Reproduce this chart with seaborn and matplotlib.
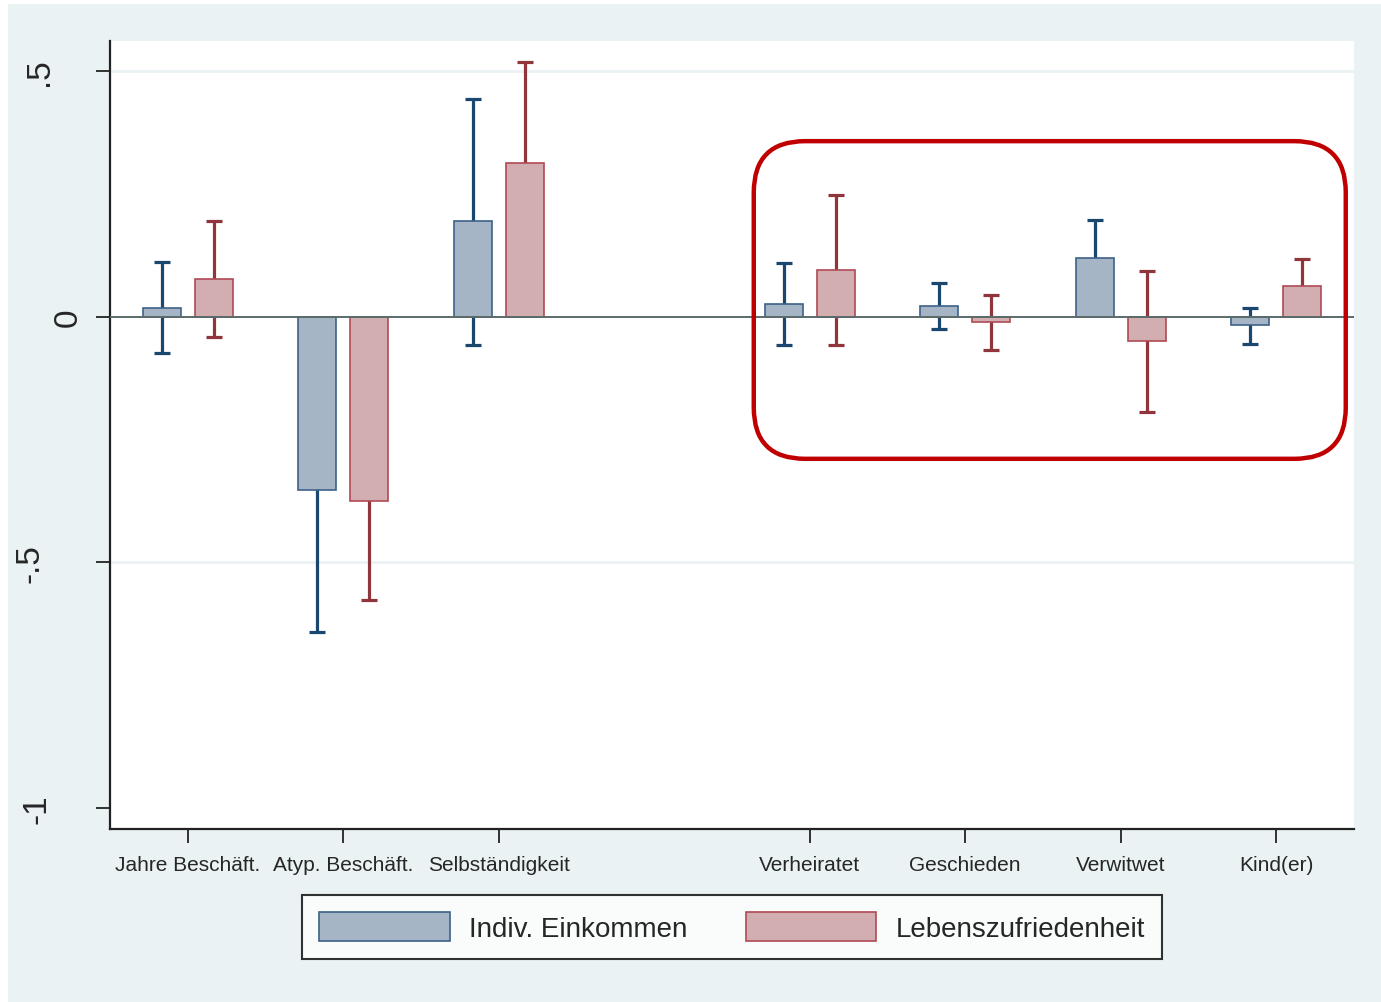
import numpy as np
import pandas as pd
import matplotlib
matplotlib.use("Agg")
import matplotlib.pyplot as plt
import matplotlib.transforms as mtransforms
from matplotlib.patches import FancyBboxPatch, Rectangle, Patch
import seaborn as sns

# ---- data ----
categories = ["Jahre Beschäft.", "Atyp. Beschäft.", "Selbständigkeit", "",
              "Verheiratet", "Geschieden", "Verwitwet", "Kind(er)"]
used_categories = ["Jahre Beschäft.", "Atyp. Beschäft.", "Selbständigkeit",
                   "Verheiratet", "Geschieden", "Verwitwet", "Kind(er)"]
series = ["Indiv. Einkommen", "Lebenszufriedenheit"]

einkommen = [0.018, -0.352, 0.196, 0.026, 0.022, 0.120, -0.016]
einkommen_lo = [-0.073, -0.642, -0.057, -0.057, -0.024, 0.042, -0.055]
einkommen_hi = [0.112, -0.062, 0.444, 0.110, 0.069, 0.198, 0.018]

zufriedenheit = [0.077, -0.375, 0.314, 0.096, -0.010, -0.049, 0.063]
zufriedenheit_lo = [-0.041, -0.576, 0.109, -0.057, -0.067, -0.193, 0.008]
zufriedenheit_hi = [0.196, -0.174, 0.519, 0.248, 0.045, 0.094, 0.118]

yticks = [-1, -0.5, 0, 0.5]
yticklabels = ["-1", "-.5", "0", ".5"]

df = pd.DataFrame({
    "cat": used_categories * 2,
    "series": [series[0]] * 7 + [series[1]] * 7,
    "value": einkommen + zufriedenheit,
    "lo": einkommen_lo + zufriedenheit_lo,
    "hi": einkommen_hi + zufriedenheit_hi,
})

# ---- style ----
bg = "#eaf2f3"
fills = ["#a5b5c6", "#d3aeb1"]
edges = ["#3d6289", "#b04a55"]
errc = ["#1a476f", "#90353b"]

sns.set_style("white")
plt.rcParams["font.family"] = ["Liberation Sans", "DejaVu Sans"]

fig = plt.figure(figsize=(13.81, 10.03), dpi=100)
fig.patch.set_facecolor("white")
fig.add_artist(Rectangle((8 / 1381, 0), 1 - 8 / 1381, 1 - 5 / 1003,
                         transform=fig.transFigure, facecolor=bg,
                         edgecolor="none", zorder=-10))

ax = fig.add_axes([110 / 1381, 1 - 830 / 1003, (1354 - 110) / 1381, (830 - 42) / 1003])
ax.set_facecolor("white")

sns.barplot(data=df, x="cat", y="value", hue="series", order=categories,
            hue_order=series, palette=fills, width=0.668, gap=0.267,
            errorbar=None, legend=False, ax=ax, zorder=3, linewidth=1.2)

for bar in list(ax.patches):
    h = bar.get_height()
    if np.isnan(h) or bar.get_width() <= 0:
        continue
    xc = bar.get_x() + bar.get_width() / 2
    ci = int(round(xc))
    k = 0 if xc < ci else 1
    bar.set_facecolor(fills[k])
    bar.set_edgecolor(edges[k])
    row = df[(df["cat"] == categories[ci]) & (df["series"] == series[k])].iloc[0]
    lo, hi = row["lo"], row["hi"]
    ax.errorbar([xc], [(lo + hi) / 2], yerr=[[(hi - lo) / 2], [(hi - lo) / 2]],
                fmt="none", ecolor=errc[k], elinewidth=2.3, capsize=5.5,
                capthick=2.3, zorder=2)

ax.set_xlim(-0.5, 7.5)
ax.set_ylim(-1.043, 0.562)

for yv in [0.5, -0.5]:
    ax.axhline(yv, color=bg, lw=2, zorder=0)
ax.axhline(0, color="#5b6b6b", lw=1.4, zorder=4)

ax.set_yticks(yticks)
ax.set_yticklabels(yticklabels, rotation=90, va="center", fontsize=24)
tick_pos = [i for i, c in enumerate(categories) if c]
ax.set_xticks(tick_pos)
ax.set_xticklabels([c for c in categories if c], fontsize=15)
ax.tick_params(axis="both", direction="out", length=10, width=1.3, color="#222222",
               left=True, bottom=True)
ax.tick_params(axis="y", pad=9)
ax.tick_params(axis="x", pad=9)
ax.set_xlabel("")
ax.set_ylabel("")

# per-label horizontal offsets (pixels) as in the original layout
label_shift = {"-1": -31, "-.5": -38, "0": 0, ".5": -29}
for lab in ax.get_yticklabels():
    dx = label_shift.get(lab.get_text(), 0)
    lab.set_transform(lab.get_transform() +
                      mtransforms.ScaledTranslation(dx / 100, 0, fig.dpi_scale_trans))

for s in ["top", "right"]:
    ax.spines[s].set_visible(False)
for s in ["left", "bottom"]:
    ax.spines[s].set_color("#222222")
    ax.spines[s].set_linewidth(1.6)

# red rounded highlight box
x0, x1 = 3.64, 7.447
y0, y1 = -0.289, 0.358
xunit = (1354 - 110) / 8.0
yunit = (830 - 42) / (0.562 + 1.043)
box = FancyBboxPatch((x0, y0), x1 - x0, y1 - y0,
                     boxstyle="round,pad=0,rounding_size=0.33",
                     mutation_aspect=xunit / yunit,
                     facecolor="none", edgecolor="#c00000", lw=3.2, zorder=6,
                     transform=ax.transData, clip_on=False)
ax.add_patch(box)

handles = [Patch(facecolor=fills[k], edgecolor=edges[k], linewidth=1.2, label=series[k])
           for k in range(2)]
leg = fig.legend(handles=handles, loc="center", bbox_to_anchor=(732 / 1381, 1 - 928 / 1003),
                 ncol=2, fontsize=20, frameon=True, fancybox=False,
                 handlelength=4.7, handleheight=1.2, handletextpad=0.7,
                 columnspacing=2.1, borderpad=0.62, borderaxespad=0)
leg.get_frame().set_edgecolor("black")
leg.get_frame().set_linewidth(1.5)
leg.get_frame().set_facecolor("white")

fig.savefig("out.png", dpi=100, facecolor=fig.get_facecolor())
